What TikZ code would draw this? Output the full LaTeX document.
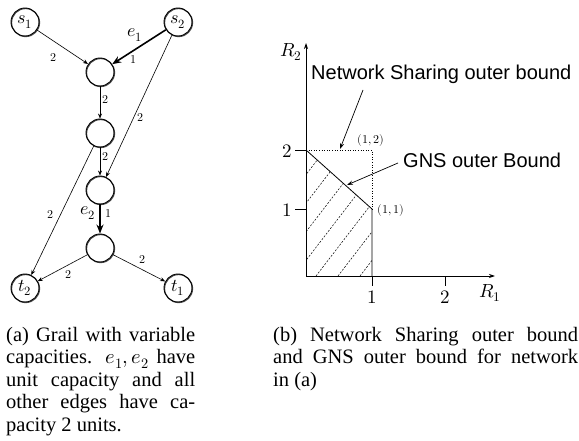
\documentclass[tikz,border=0pt]{standalone}
\usepackage{fontspec}
\usepackage{unicode-math}
\setmainfont{Liberation Serif}
\setmathfont{Latin Modern Math}
\newfontfamily\labelsans{Liberation Sans}
\usetikzlibrary{arrows.meta}

\begin{document}
\begin{tikzpicture}[x=1pt,y=-1pt,
  vertex/.style={circle,draw,line width=0.9pt,minimum size=28pt,inner sep=0pt,
    font=\fontsize{18}{18}\selectfont,
    preaction={draw,line width=1.1pt,black!70,
      transform canvas={shift={(0.6pt,-0.6pt)}}}},
  edge/.style={-{Stealth[length=5pt,width=4pt]},line width=0.6pt},
  unitedge/.style={-{Stealth[length=9pt,width=7pt]},line width=1.6pt},
  wlab/.style={font=\fontsize{12}{12}\selectfont,inner sep=0pt},
  edgename/.style={font=\fontsize{18}{18}\selectfont,inner sep=0pt},
  axis/.style={-{Stealth[length=6pt,width=4pt]},line width=0.8pt},
  ticklab/.style={font=\fontsize{19}{19}\selectfont,inner sep=0pt},
  pointlab/.style={font=\fontsize{12}{12}\selectfont,inner sep=0pt},
  sanslab/.style={font=\labelsans\fontsize{20}{20}\selectfont,inner sep=0pt},
  pointer/.style={-{Stealth[length=6pt,width=4pt]},line width=0.7pt},
  hatch/.style={line width=0.5pt,dash pattern=on 2pt off 1.5pt},
  caption/.style={font=\fontsize{20.5}{22.5}\selectfont,inner sep=0pt,align=left}
]
\useasboundingbox (0,0) rectangle (579,441);

% ---------- (a) grail network ----------
\node[vertex] (s1) at (25,22)  {$s_1$};
\node[vertex] (s2) at (178,22) {$s_2$};
\node[vertex] (n1) at (100,72)  {};
\node[vertex] (n2) at (100,133) {};
\node[vertex] (n3) at (100,190) {};
\node[vertex] (n4) at (100,248) {};
\node[vertex] (t2) at (25,288)  {$t_2$};
\node[vertex] (t1) at (178,288) {$t_1$};

\draw[edge] (s1) -- (n1);
\draw[unitedge] (s2) -- (n1);
\draw[edge] (n1) -- (n2);
\draw[edge] (s2) -- (n3);
\draw[edge] (n2) -- (n3);
\draw[edge] (n2) -- (t2);
\draw[unitedge] (n3) -- (n4);
\draw[edge] (n4) -- (t2);
\draw[edge] (n4) -- (t1);

\node[wlab] (c1) at (53,58)  {$2$};
\node[edgename] (e1) at (135,35) {$e_1$};
\node[wlab] (c2) at (133,60) {$1$};
\node[wlab] (c3) at (105,100) {$2$};
\node[wlab] (c4) at (140,118) {$2$};
\node[wlab] (c5) at (105,157) {$2$};
\node[wlab] (c6) at (50,215) {$2$};
\node[edgename] (e2) at (88,213) {$e_2$};
\node[wlab] (c7) at (108,214) {$1$};
\node[wlab] (c8) at (68,275) {$2$};
\node[wlab] (c9) at (142,260) {$2$};

% ---------- (b) outer bounds ----------
\coordinate (O) at (306,276);
\coordinate (ytop) at (306,43);
\coordinate (xend) at (495,276);
\coordinate (A) at (306,150);  % (0,2)
\coordinate (B) at (372,209);  % (1,1)
\coordinate (C) at (372,276);  % (1,0)
\coordinate (D) at (372,150);  % (1,2)

% hatched GNS region
\begin{scope}
  \clip (O) -- (A) -- (B) -- (C) -- cycle;
  \foreach \x in {206,228,250,272,294,316,338,360}
    \draw[hatch] (\x,276) -- ++(110,-143);
\end{scope}

\draw[line width=0.8pt] (A) -- (B) -- (C);
\draw[line width=0.6pt,dotted] (A) -- (D) -- (B);

\draw[axis] (O) -- (ytop);
\draw[axis] (O) -- (xend);

% ticks
\coordinate (ty2) at (295,150);
\coordinate (ty1) at (295,209);
\coordinate (my1) at (306,209);
\coordinate (tx1) at (372,286);
\coordinate (tx2) at (445,286);
\coordinate (bx2) at (445,276);
\draw[line width=0.7pt] (ty2) -- (A);
\draw[line width=0.7pt] (ty1) -- (my1);
\draw[line width=0.7pt] (C) -- (tx1);
\draw[line width=0.7pt] (bx2) -- (tx2);

\node[ticklab] (ly2) at (287,151) {$2$};
\node[ticklab] (ly1) at (287,210) {$1$};
\node[ticklab] (lx1) at (372,297) {$1$};
\node[ticklab] (lx2) at (445,297) {$2$};
\node[ticklab] (R1) at (490,293) {$R_1$};
\node[ticklab] (R2) at (291,52) {$R_2$};

\node[pointlab] (p12) at (371,141) {$(1,2)$};
\node[pointlab] (p11) at (391,211) {$(1,1)$};

\node[sanslab,anchor=base west] (nsb) at (311,80) {Network Sharing outer bound};
\node[sanslab,anchor=base west] (gns) at (403,168) {GNS outer Bound};
\coordinate (nsbtip) at (340,149);
\coordinate (nsbtail) at (363,90);
\coordinate (gnstip) at (347,185);
\coordinate (gnstail) at (398,163);
\draw[pointer] (nsbtail) -- (nsbtip);
\draw[pointer] (gnstail) -- (gnstip);

% ---------- captions ----------
\node[caption,anchor=north west] (capa) at (6,327) {%
  \hbox to 189pt{(a) Grail with variable}\\
  \hbox to 189pt{capacities. $e_1,e_2$ have}\\
  \hbox to 189pt{unit capacity and all}\\
  \hbox to 189pt{other edges have ca-}\\
  pacity 2 units.};
\node[caption,anchor=north west] (capb) at (273,327) {%
  \hbox to 305pt{(b) Network Sharing outer bound}\\
  \hbox to 305pt{and GNS outer bound for network}\\
  in (a)};
\end{tikzpicture}
\end{document}
